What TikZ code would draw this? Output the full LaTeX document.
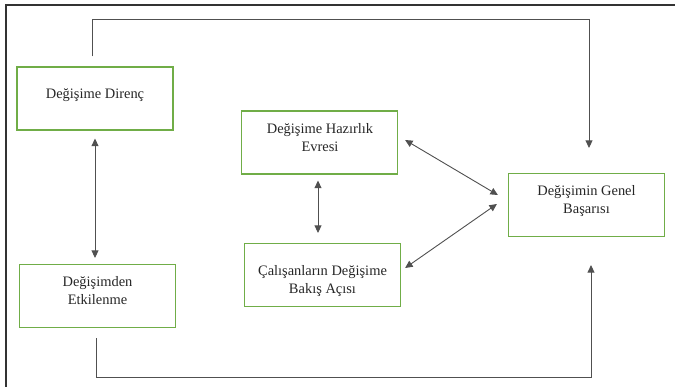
\documentclass[tikz,border=0pt]{standalone}
\usepackage{fontspec}
\setmainfont{Liberation Serif}
\usetikzlibrary{arrows.meta,calc}
\definecolor{boxgreen}{RGB}{112,173,71}
\definecolor{linegray}{RGB}{80,80,80}
\tikzset{
  box/.style={draw=boxgreen, line width=1.2bp, minimum width=156bp, minimum height=63bp, inner sep=0pt},
  txt/.style={align=center, inner sep=0pt, font=\fontsize{14.5}{18}\selectfont, anchor=base, text=black!85},
  conn/.style={draw=linegray, line width=0.9bp},
  arr/.style={conn, {Triangle[width=7bp,length=7.5bp]}-{Triangle[width=7bp,length=7.5bp]}},
  arrone/.style={conn, -{Triangle[width=7bp,length=7.5bp]}},
  frame/.style={draw=black!80, line width=1.3bp}
}
\begin{document}
\begin{tikzpicture}[x=1bp,y=-1bp]
\useasboundingbox (0,0) rectangle (675,387);
\draw[frame] (675,5) -- (6,5) -- (6,387);
% boxes
\node[box] (dir) at (95,98.5) {};
\node[box] (haz) at (319.5,142.5) {};
\node[box] (bas) at (586.5,205) {};
\node[box] (etk) at (97.5,296) {};
\node[box] (cal) at (322.5,275) {};
% texts (anchor at baseline of last line)
\node[txt] (tdir) at (95,98) {Değişime Direnç};
\node[txt] (thaz) at (320,151) {Değişime Hazırlık\\Evresi};
\node[txt] (tbas) at (586.5,213) {Değişimin Genel\\Başarısı};
\node[txt] (tetk) at (97.5,304) {Değişimden\\Etkilenme};
\node[txt] (tcal) at (322.5,293) {Çalışanların Değişime\\Bakış Açısı};
% connectors
\draw[arr] ($(dir.south)+(0,8)$) -- ($(etk.north)+(-2.5,-6)$);
\draw[arr] ($(haz.south)+(-1.5,6)$) -- ($(cal.north)+(-4.5,-10)$);
\draw[arr] ($(haz.east)+(7,-2.5)$) -- ($(bas.west)+(-10,-10)$);
\draw[arr] ($(cal.east)+(4,-7)$) -- ($(bas.west)+(-11,-1)$);
\draw[arrone] ($(dir.north)+(-3,-10)$) -- ++(0,-37) -| ($(bas.north)+(2.5,-25)$);
\draw[arrone] ($(etk.south)+(-1.5,10)$) -- ++(0,39) -| ($(bas.south)+(4.5,28)$);
\end{tikzpicture}
\end{document}
